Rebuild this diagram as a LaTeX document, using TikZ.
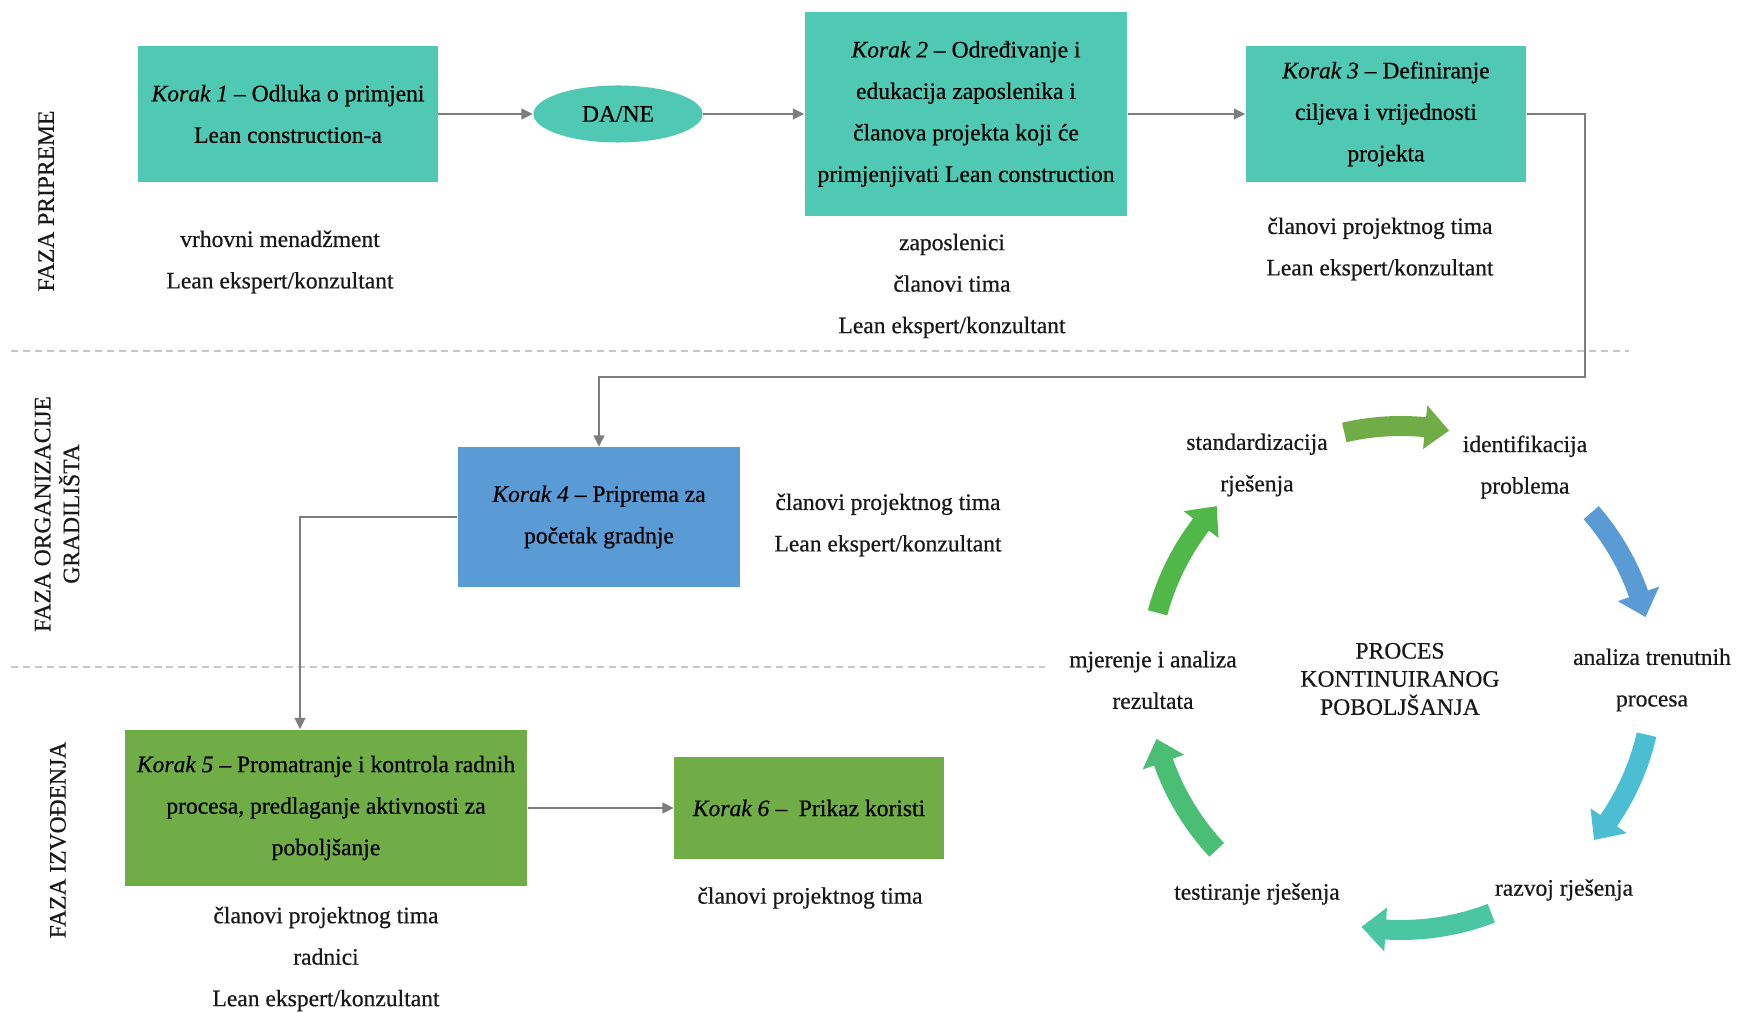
\documentclass[tikz,border=0pt]{standalone}
\usepackage{fontspec}
\setmainfont{Liberation Serif}[UprightFeatures={FakeBold=0.6}, ItalicFeatures={FakeBold=0.4}]
\usetikzlibrary{arrows.meta,calc,shapes.geometric}

\definecolor{stepteal}{RGB}{80,201,180}
\definecolor{stepblue}{RGB}{91,155,213}
\definecolor{stepgreen}{RGB}{112,173,71}
\definecolor{cikluscyan}{RGB}{75,190,212}
\definecolor{ciklusteal}{RGB}{75,198,162}
\definecolor{ciklusmint}{RGB}{75,190,118}
\definecolor{cikluslime}{RGB}{80,184,72}
\definecolor{linegray}{RGB}{125,125,125}
\definecolor{txtdark}{RGB}{25,25,25}

\newcommand\dgfont{\fontsize{6.7}{11.8}\selectfont}

% one curved block arrow of the cycle: colour, tail angle, tip angle
\newcommand\ciklusstrelica[3]{%
  \fill[#1] (#2:262) arc[start angle=#2, end angle=#3+5.5, radius=262]
    -- (#3+5.5:274) -- (#3:252) -- (#3+5.5:230) -- (#3+5.5:242)
    arc[start angle=#3+5.5, end angle=#2, radius=242] -- cycle;}

\tikzset{
  korak/.style={rectangle, fill=#1, text=black, align=center, inner sep=0pt, font=\dgfont},
  odluka/.style={ellipse, fill=stepteal, text=black, inner sep=0pt,
    minimum width=1.69cm, minimum height=0.57cm, font=\dgfont},
  uloga/.style={align=center, text=txtdark, font=\dgfont},
  faza/.style={rotate=90, align=center, text=txtdark, font=\fontsize{6.7}{8.2}\selectfont},
  tok/.style={draw=linegray, line width=0.6pt, -{Triangle[length=3.2pt,width=3pt]}},
  granica/.style={draw=gray!45, line width=0.6pt, dash pattern=on 2pt off 1.4pt},
}

\begin{document}
\begin{tikzpicture}[x=0.01cm, y=-0.01cm]
\useasboundingbox (0,0) rectangle (1744,1013);

% Phase borders
\draw[granica] (11,351) -- (1629,351);
\draw[granica] (11,667) -- (1045,667);

% Phase titles
\node[faza] (faza1) at (46,201) {FAZA PRIPREME};
\node[faza] (faza2) at (57,514) {FAZA ORGANIZACIJE\\GRADILIŠTA};
\node[faza] (faza3) at (58,840) {FAZA IZVOĐENJA};

% Steps
\node[korak=stepteal, minimum width=2.99cm, minimum height=1.36cm] (k1) at (288,114)
  {\textit{Korak 1} – Odluka o primjeni\\Lean construction-a};
\node[odluka] (dane) at (618,114) {DA/NE};
\node[korak=stepteal, minimum width=3.22cm, minimum height=2.03cm] (k2) at (966,114)
  {\textit{Korak 2} – Određivanje i\\edukacija zaposlenika i\\članova projekta koji će\\primjenjivati Lean construction};
\node[korak=stepteal, minimum width=2.80cm, minimum height=1.36cm] (k3) at (1386,114)
  {\textit{Korak 3} – Definiranje\\ciljeva i vrijednosti\\projekta};
\node[korak=stepblue, minimum width=2.82cm, minimum height=1.39cm] (k4) at (599,517)
  {\textit{Korak 4} – Priprema za\\početak gradnje};
\node[korak=stepgreen, minimum width=4.02cm, minimum height=1.56cm] (k5) at (326,808)
  {\textit{Korak 5} – Promatranje i kontrola radnih\\procesa, predlaganje aktivnosti za\\poboljšanje};
\node[korak=stepgreen, minimum width=2.69cm, minimum height=1.02cm] (k6) at (809,808)
  {\textit{Korak 6} –\ \ Prikaz koristi};

% Who takes part
\node[uloga] (k1uloge) at (280,262) {vrhovni menadžment\\Lean ekspert/konzultant};
\node[uloga] (k2uloge) at (952,286) {zaposlenici\\članovi tima\\Lean ekspert/konzultant};
\node[uloga] (k3uloge) at (1380,249) {članovi projektnog tima\\Lean ekspert/konzultant};
\node[uloga] (k4uloge) at (888,525) {članovi projektnog tima\\Lean ekspert/konzultant};
\node[uloga] (k5uloge) at (326,959) {članovi projektnog tima\\radnici\\Lean ekspert/konzultant};
\node[uloga] (k6uloge) at (810,898) {članovi projektnog tima};

% Flow
\draw[tok] (k1.east) -- (dane.west);
\draw[tok] (dane.east) -- (k2.west);
\draw[tok] (k2.east) -- (k3.west);
\draw[tok] (k3.east) -- ++(58,0) |- ($(k4.north)+(0,-70)$) -- (k4.north);
\draw[tok] (k4.west) -| ($(k5.north)+(-26,0)$);
\draw[tok] (k5.east) -- (k6.west);

% Cycle of continuous improvement
\begin{scope}[shift={(1401,678)}, y=0.01cm]
\ciklusstrelica{stepgreen}{103}{79}
\ciklusstrelica{stepblue}{41}{14}
\ciklusstrelica{cikluscyan}{-13}{-40}
\ciklusstrelica{ciklusteal}{-69}{-99}
\ciklusstrelica{ciklusmint}{-137}{-166}
\ciklusstrelica{cikluslime}{165}{137}
\end{scope}

\node[uloga] (c1) at (1525,467) {identifikacija\\problema};
\node[uloga] (c2) at (1652,680) {analiza trenutnih\\procesa};
\node[uloga] (c3) at (1564,890) {razvoj rješenja};
\node[uloga] (c4) at (1257,894) {testiranje rješenja};
\node[uloga] (c5) at (1153,680) {mjerenje i analiza\\rezultata};
\node[uloga] (c6) at (1257,465) {standardizacija\\rješenja};
\node[uloga, font=\fontsize{6.7}{8}\selectfont] (proces) at (1400,679)
  {PROCES\\KONTINUIRANOG\\POBOLJŠANJA};

\end{tikzpicture}
\end{document}
